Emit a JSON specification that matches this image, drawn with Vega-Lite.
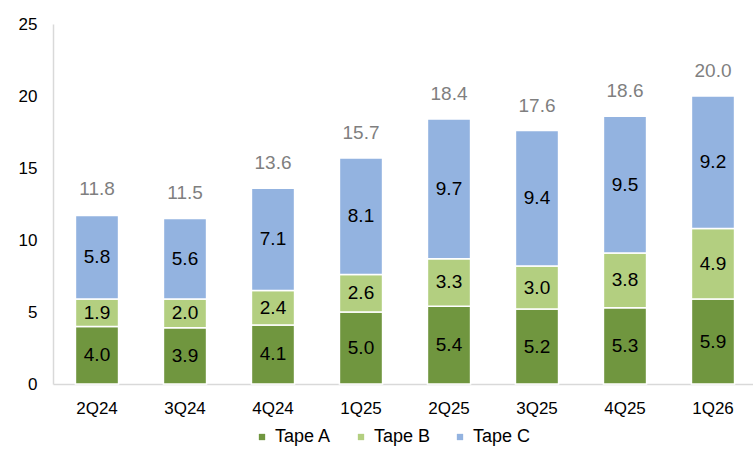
{
  "$schema": "https://vega.github.io/schema/vega-lite/v6.json",
  "autosize": "none",
  "width": 704,
  "height": 360,
  "padding": {"left": 53, "top": 24, "right": 0, "bottom": 68},
  "background": "white",
  "config": {
    "view": {"stroke": null},
    "font": "Liberation Sans",
    "axis": {"grid": false, "ticks": false, "domainColor": "#d9d9d9", "domainWidth": 1.5, "labelColor": "#000000", "labelFont": "Liberation Sans", "labelFontSize": 17, "title": null}
  },
  "datasets": {
    "bars": [
      {"quarter": "2Q24", "series": "Tape A", "order": 1, "value": 4.0},
      {"quarter": "2Q24", "series": "Tape B", "order": 2, "value": 1.9},
      {"quarter": "2Q24", "series": "Tape C", "order": 3, "value": 5.8},
      {"quarter": "3Q24", "series": "Tape A", "order": 1, "value": 3.9},
      {"quarter": "3Q24", "series": "Tape B", "order": 2, "value": 2.0},
      {"quarter": "3Q24", "series": "Tape C", "order": 3, "value": 5.6},
      {"quarter": "4Q24", "series": "Tape A", "order": 1, "value": 4.1},
      {"quarter": "4Q24", "series": "Tape B", "order": 2, "value": 2.4},
      {"quarter": "4Q24", "series": "Tape C", "order": 3, "value": 7.1},
      {"quarter": "1Q25", "series": "Tape A", "order": 1, "value": 5.0},
      {"quarter": "1Q25", "series": "Tape B", "order": 2, "value": 2.6},
      {"quarter": "1Q25", "series": "Tape C", "order": 3, "value": 8.1},
      {"quarter": "2Q25", "series": "Tape A", "order": 1, "value": 5.4},
      {"quarter": "2Q25", "series": "Tape B", "order": 2, "value": 3.3},
      {"quarter": "2Q25", "series": "Tape C", "order": 3, "value": 9.7},
      {"quarter": "3Q25", "series": "Tape A", "order": 1, "value": 5.2},
      {"quarter": "3Q25", "series": "Tape B", "order": 2, "value": 3.0},
      {"quarter": "3Q25", "series": "Tape C", "order": 3, "value": 9.4},
      {"quarter": "4Q25", "series": "Tape A", "order": 1, "value": 5.3},
      {"quarter": "4Q25", "series": "Tape B", "order": 2, "value": 3.8},
      {"quarter": "4Q25", "series": "Tape C", "order": 3, "value": 9.5},
      {"quarter": "1Q26", "series": "Tape A", "order": 1, "value": 5.9},
      {"quarter": "1Q26", "series": "Tape B", "order": 2, "value": 4.9},
      {"quarter": "1Q26", "series": "Tape C", "order": 3, "value": 9.2}
    ],
    "totals": [
      {"quarter": "2Q24", "total": 11.8},
      {"quarter": "3Q24", "total": 11.5},
      {"quarter": "4Q24", "total": 13.6},
      {"quarter": "1Q25", "total": 15.7},
      {"quarter": "2Q25", "total": 18.4},
      {"quarter": "3Q25", "total": 17.6},
      {"quarter": "4Q25", "total": 18.6},
      {"quarter": "1Q26", "total": 20.0}
    ]
  },
  "layer": [
    {
      "data": {"name": "bars"},
      "transform": [
        {"stack": "value", "groupby": ["quarter"], "sort": [{"field": "order", "order": "ascending"}], "as": ["y0", "y1"]},
        {"calculate": "(datum.y0 + datum.y1) / 2", "as": "mid"}
      ],
      "layer": [
        {
          "mark": {"type": "bar", "stroke": "white", "strokeWidth": 1.5},
          "encoding": {
            "x": {"field": "quarter", "type": "nominal", "sort": null,
                  "scale": {"paddingInner": 0.51, "paddingOuter": 0.255},
                  "axis": {"labelAngle": 0, "labelPadding": 16}},
            "y": {"field": "y0", "type": "quantitative",
                  "scale": {"domain": [0, 25], "nice": false},
                  "axis": {"values": [0, 5, 10, 15, 20, 25], "labelPadding": 16}},
            "y2": {"field": "y1"},
            "color": {"field": "series", "type": "nominal",
                      "scale": {"domain": ["Tape A", "Tape B", "Tape C"], "range": ["#70963f", "#b3cf80", "#93b3e0"]},
                      "legend": {"orient": "none", "direction": "horizontal", "legendX": 200, "legendY": 404,
                                 "title": null, "symbolType": "square", "symbolSize": 40, "symbolStrokeWidth": 0,
                                 "labelFontSize": 18, "labelFont": "Liberation Sans", "labelColor": "#000000",
                                 "columnPadding": 20, "labelOffset": 4}}
          }
        },
        {
          "mark": {"type": "text", "fontSize": 19, "color": "#000000", "align": "center", "baseline": "middle"},
          "encoding": {
            "x": {"field": "quarter", "type": "nominal", "sort": null},
            "y": {"field": "mid", "type": "quantitative"},
            "text": {"field": "value", "type": "quantitative", "format": ".1f"}
          }
        }
      ]
    },
    {
      "data": {"name": "totals"},
      "mark": {"type": "text", "fontSize": 19, "color": "#7f7f7f", "align": "center", "baseline": "bottom", "dy": -15},
      "encoding": {
        "x": {"field": "quarter", "type": "nominal", "sort": null},
        "y": {"field": "total", "type": "quantitative"},
        "text": {"field": "total", "type": "quantitative", "format": ".1f"}
      }
    }
  ]
}
